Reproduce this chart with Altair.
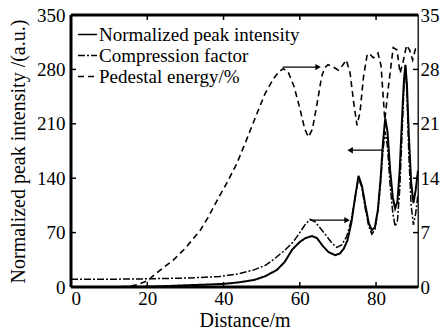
import altair as alt
import pandas as pd

# ---------------- data ----------------
series_names = ["Normalized peak intensity", "Compression factor", "Pedestal energy/%"]

# Normalized peak intensity (left axis, a.u.)
x_s = [0, 10, 20, 25, 30, 35, 40, 44, 48, 51, 54, 56, 58, 60, 61.5, 63.2, 64.5, 66, 67.5,
       69.3, 70.5, 71.5, 72.5, 73.5, 74.5, 75.4, 76.3, 77.2, 78.1, 78.9, 79.7, 80.5, 81.2,
       81.8, 82.4, 83.0, 83.7, 84.4, 85.0, 85.6, 86.2, 86.8, 87.3, 87.7, 88.1, 88.6, 89.2,
       89.8, 90.4, 91]
y_s = [0, 0, 0.5, 1.2, 2.2, 3.0, 4.0, 6, 9, 14, 22, 32, 48, 58, 63, 65.5, 63, 53, 45,
       41, 43, 49, 60, 82, 115, 143, 130, 105, 82, 73, 77, 100, 140,
       185, 217, 200, 150, 115, 101, 110, 150, 215, 265, 286, 260, 195, 135,
       108, 125, 150]

# Compression factor (right axis)
x_c = [0, 10, 20, 30, 35, 39, 44, 48, 51, 53, 56, 58.3, 60, 61.5, 62.7, 64, 65.5, 67.1,
       68.5, 69.7, 71, 72.3, 73.5, 74.5, 75.4, 76.3, 77.2, 78.1, 78.9, 79.7, 80.5, 81.2,
       81.8, 82.4, 83.0, 83.7, 84.4, 85.0, 85.6, 86.2, 86.8, 87.3, 87.7, 88.1, 88.6, 89.2,
       89.8, 90.4, 91]
y_c = [1.0, 1.0, 1.05, 1.15, 1.25, 1.35, 1.7, 2.2, 2.8, 3.5, 4.7, 5.8, 7.0, 8.1, 8.7, 8.4,
       7.5, 6.5, 5.6, 5.1, 5.4, 6.5, 8.6, 11.5, 14.0, 12.8, 10.0, 7.8, 6.8, 7.4, 9.8, 13.5,
       17.5, 20.0, 18.0, 13.0, 9.5, 7.8, 8.5, 12.5, 19.5, 25.5, 28.5, 25.0, 17.0, 10.5,
       8.0, 9.5, 12.0]

# Pedestal energy / % (right axis)
x_p = [0, 10, 14.5, 17.5, 20, 21.7, 24, 26.9, 30, 33.9, 36, 38.7, 41, 43.5, 46, 48.5, 50.9,
       53.1, 54.5, 55.7, 57, 58.5, 60, 61.3, 62.3, 63.3, 64.5, 65.7, 66.5, 67.4, 68.8, 70.1,
       71.2, 72.2, 73.2, 74.2, 75.0, 75.8, 76.7, 77.7, 78.5, 79.3, 80.5, 81.3, 82.3, 83.3,
       84.5, 85.5, 86.3, 87.1, 88.0, 88.8, 89.6, 90.3, 91]
y_p = [0, 0, 0, 0.3, 0.8, 1.5, 2.4, 3.5, 5.0, 7.3, 9.0, 11.5, 13.5, 15.9, 18.9, 22.0, 24.9,
       26.8, 27.7, 28.1, 27.6, 25.8, 23.0, 20.3, 19.3, 20.3, 23.5, 27.0, 28.2, 28.6, 28.3, 27.9,
       28.5, 29.2, 27.5, 23.5, 20.8, 22.5, 27.0, 30.0, 29.9, 29.5, 30.1, 28.5, 21.5, 26.0,
       30.8, 30.5, 27.5, 29.0, 31.1, 30.5, 29.2, 30.6, 30.8]

# annotation arrows (right-axis units)
arrow_x1 = [55.5, 81.8, 62.7]
arrow_x2 = [64.8, 73.2, 72.4]
arrow_y = [28.3, 17.6, 8.6]
arrow_head = ["triangle-right", "triangle-left", "triangle-right"]

x_ticks = [0, 20, 40, 60, 80]
yl_ticks = [0, 70, 140, 210, 280, 350]
yr_ticks = [0, 7, 14, 21, 28, 35]

# ---------------- chart ----------------
FONT = "Liberation Serif"
W, H = 347, 272
TICK = 5

xscale = alt.Scale(domain=[0, 91], nice=False, zero=False)
yl_scale = alt.Scale(domain=[0, 350], nice=False)
yr_scale = alt.Scale(domain=[0, 35], nice=False)
dash_scale = alt.Scale(domain=series_names, range=[[1, 0], [7, 2, 2, 2], [6, 4]])

df_s = pd.DataFrame({"x": x_s, "v": y_s, "series": series_names[0]})
df_c = pd.DataFrame({"x": x_c, "v": y_c, "series": series_names[1]})
df_p = pd.DataFrame({"x": x_p, "v": y_p, "series": series_names[2]})
df_arr = pd.DataFrame({"x1": arrow_x1, "x2": arrow_x2, "y": arrow_y, "head": arrow_head})
df_xt = pd.DataFrame({"x": x_ticks[1:]})
df_ylt = pd.DataFrame({"v": yl_ticks[1:-1]})
df_yrt = pd.DataFrame({"v": yr_ticks[1:-1]})

legend = alt.Legend(
    title=None, orient="none", legendX=6, legendY=9,
    symbolType="stroke", symbolSize=361, symbolStrokeColor="black", symbolStrokeWidth=1.6,
    labelFont=FONT, labelFontSize=19, labelColor="black", labelOffset=1, labelLimit=0,
    rowPadding=0, padding=0,
)

x_axis = alt.Axis(values=x_ticks, title="Distance/m", labelPadding=2, titlePadding=2,
                  titleFontSize=20)
yl_axis = alt.Axis(values=yl_ticks, title="Normalized peak intensity /(a.u.)",
                   labelPadding=6, titlePadding=8, titleFontSize=20)
yr_axis = alt.Axis(values=yr_ticks, orient="right", title=None, labelPadding=2)

solid = alt.Chart(df_s).mark_line(color="black", strokeWidth=2, clip=True).encode(
    x=alt.X("x:Q", scale=xscale, axis=x_axis),
    y=alt.Y("v:Q", scale=yl_scale, axis=yl_axis),
    strokeDash=alt.StrokeDash("series:N", scale=dash_scale, legend=legend),
)

tick_rule = dict(color="black", strokeWidth=1.5)
bottom_ticks = alt.Chart(df_xt).mark_rule(**tick_rule).encode(
    x=alt.X("x:Q", scale=xscale, axis=x_axis), y=alt.value(H), y2=alt.value(H - TICK))
top_ticks = alt.Chart(df_xt).mark_rule(**tick_rule).encode(
    x=alt.X("x:Q", scale=xscale, axis=x_axis), y=alt.value(0), y2=alt.value(TICK))
left_ticks = alt.Chart(df_ylt).mark_rule(**tick_rule).encode(
    y=alt.Y("v:Q", scale=yl_scale, axis=yl_axis), x=alt.value(0), x2=alt.value(TICK))
frame = alt.Chart(pd.DataFrame({"k": [0]})).mark_rule(color="black", strokeWidth=3)
frame_bottom = frame.encode(x=alt.value(0), x2=alt.value(W), y=alt.value(H))
frame_top = frame.encode(x=alt.value(0), x2=alt.value(W), y=alt.value(0))
frame_left = frame.encode(x=alt.value(0), y=alt.value(0), y2=alt.value(H))

left_group = alt.layer(solid, bottom_ticks, top_ticks, left_ticks,
                       frame_bottom, frame_top, frame_left)

comp = alt.Chart(df_c).mark_line(color="black", strokeWidth=1.5, clip=True).encode(
    x=alt.X("x:Q", scale=xscale, axis=x_axis),
    y=alt.Y("v:Q", scale=yr_scale, axis=yr_axis),
    strokeDash=alt.StrokeDash("series:N", scale=dash_scale, legend=legend),
)
ped = alt.Chart(df_p).mark_line(color="black", strokeWidth=1.6, clip=True).encode(
    x=alt.X("x:Q", scale=xscale, axis=x_axis),
    y=alt.Y("v:Q", scale=yr_scale, axis=yr_axis),
    strokeDash=alt.StrokeDash("series:N", scale=dash_scale, legend=legend),
)
arrows = alt.Chart(df_arr).mark_rule(color="black", strokeWidth=1.3).encode(
    x=alt.X("x1:Q", scale=xscale, axis=x_axis), x2="x2:Q",
    y=alt.Y("y:Q", scale=yr_scale, axis=yr_axis),
)
heads = alt.Chart(df_arr).mark_point(color="black", filled=True, opacity=1, size=40).encode(
    x=alt.X("x2:Q", scale=xscale, axis=x_axis),
    y=alt.Y("y:Q", scale=yr_scale, axis=yr_axis),
    shape=alt.Shape("head:N", scale=None),
)
right_ticks = alt.Chart(df_yrt).mark_rule(**tick_rule).encode(
    y=alt.Y("v:Q", scale=yr_scale, axis=yr_axis), x=alt.value(W), x2=alt.value(W - TICK))

right_group = alt.layer(comp, ped, arrows, heads, right_ticks)

chart = alt.layer(left_group, right_group).resolve_scale(y="independent").properties(
    width=W, height=H,
    autosize=alt.AutoSizeParams(type="none"),
    padding={"left": 71, "top": 15, "right": 23, "bottom": 42},
).configure(font=FONT).configure_view(stroke="black", strokeWidth=1.3).configure_axis(
    labelFont=FONT, titleFont=FONT, labelFontSize=19, titleFontSize=19,
    labelColor="black", titleColor="black", titleFontWeight="normal",
    grid=False, ticks=False, domain=False,
).configure_legend(
    labelFont=FONT, labelFontSize=19, labelColor="black", labelLimit=0,
)

chart.save("out.html", embed_options={"renderer": "svg", "actions": False})
